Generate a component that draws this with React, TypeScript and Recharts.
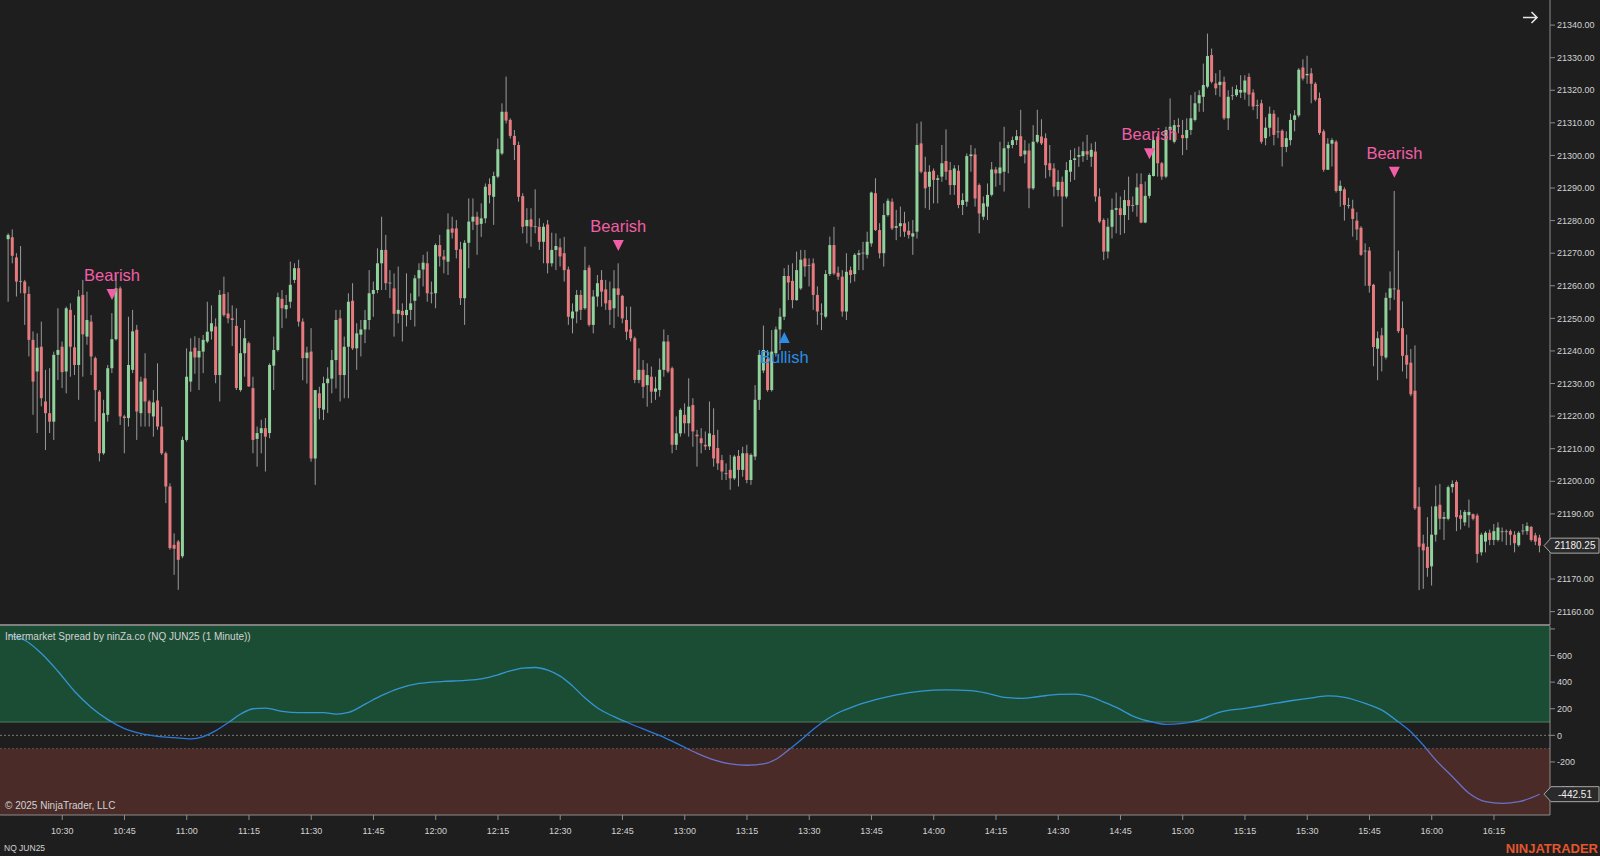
import React from 'react';
import { ComposedChart, Bar, Line, XAxis, YAxis, ReferenceArea, ReferenceLine } from 'recharts';

// ---------- DATA (1-minute NQ JUN25 candles, [open, high, low, close]) ----------
// 10:17 - 11:29
const candlesA: number[][] = [
  [21274.3, 21276.1, 21255.1, 21275.6], [21274.9, 21277.3, 21266.9, 21269.2], [21268.7, 21270.0, 21256.7, 21261.3],
  [21261.3, 21272.2, 21257.7, 21261.5], [21261.3, 21261.8, 21248.0, 21257.7], [21257.5, 21259.8, 21238.3, 21243.4],
  [21243.4, 21246.0, 21220.4, 21230.6], [21233.7, 21245.4, 21214.8, 21241.0], [21241.3, 21249.0, 21223.0, 21225.5],
  [21224.5, 21234.2, 21209.6, 21220.9], [21220.9, 21234.7, 21214.8, 21218.3], [21218.3, 21239.8, 21212.7, 21238.8],
  [21238.8, 21253.1, 21231.1, 21240.3], [21241.3, 21242.9, 21228.6, 21233.5], [21233.7, 21253.6, 21227.0, 21253.1],
  [21252.6, 21254.6, 21232.1, 21241.3], [21241.1, 21251.0, 21232.6, 21235.7], [21235.7, 21258.7, 21225.0, 21256.7],
  [21257.2, 21261.8, 21232.1, 21245.1], [21244.4, 21258.2, 21241.9, 21249.5], [21249.0, 21251.0, 21232.6, 21238.3],
  [21237.8, 21238.3, 21218.3, 21228.0], [21227.5, 21228.0, 21206.1, 21208.6], [21208.6, 21225.0, 21208.1, 21220.9],
  [21220.4, 21235.7, 21218.3, 21234.7], [21234.7, 21251.6, 21233.2, 21243.6], [21243.6, 21263.3, 21243.2, 21259.2],
  [21259.2, 21259.8, 21217.3, 21219.9], [21219.9, 21220.4, 21208.6, 21219.4], [21219.4, 21250.5, 21216.8, 21235.7],
  [21234.2, 21252.6, 21233.2, 21246.0], [21246.5, 21248.0, 21212.7, 21221.4], [21220.9, 21232.1, 21216.8, 21230.6],
  [21231.6, 21239.3, 21216.8, 21224.5], [21224.5, 21225.0, 21216.8, 21220.9], [21219.9, 21228.0, 21213.7, 21224.2],
  [21224.8, 21236.2, 21215.8, 21216.8], [21216.8, 21222.9, 21208.1, 21208.6], [21208.6, 21209.1, 21193.3, 21198.4],
  [21198.4, 21199.4, 21179.0, 21179.5], [21180.5, 21184.0, 21171.3, 21179.3], [21181.5, 21182.0, 21166.7, 21175.9],
  [21177.0, 21213.7, 21176.4, 21212.7], [21212.7, 21240.8, 21212.2, 21232.1], [21230.6, 21243.9, 21227.5, 21239.8],
  [21241.0, 21244.5, 21233.0, 21238.0], [21238.0, 21244.0, 21228.0, 21240.0], [21239.8, 21244.9, 21233.2, 21243.4],
  [21242.9, 21255.1, 21242.4, 21245.9], [21246.0, 21254.0, 21243.5, 21248.5], [21247.5, 21250.0, 21230.1, 21232.6],
  [21232.6, 21258.7, 21224.5, 21257.2], [21257.5, 21262.8, 21250.5, 21251.0], [21251.5, 21258.0, 21248.5, 21250.0],
  [21250.0, 21254.0, 21241.5, 21249.5], [21247.7, 21253.1, 21228.0, 21228.6], [21228.0, 21247.0, 21227.5, 21239.3],
  [21239.3, 21249.5, 21232.1, 21243.9], [21242.4, 21242.9, 21229.0, 21229.1], [21228.6, 21232.1, 21208.6, 21212.7],
  [21213.0, 21216.8, 21204.5, 21214.8], [21214.8, 21218.9, 21208.6, 21216.3], [21216.3, 21219.4, 21203.0, 21213.7],
  [21214.8, 21236.2, 21213.2, 21235.7], [21235.5, 21244.4, 21228.0, 21240.3], [21240.3, 21257.9, 21239.8, 21256.5],
  [21256.0, 21258.7, 21247.0, 21253.1], [21252.8, 21257.2, 21250.0, 21254.1], [21255.1, 21267.4, 21253.1, 21260.3],
  [21261.8, 21266.9, 21260.8, 21265.4], [21265.4, 21268.0, 21247.5, 21249.0], [21249.0, 21250.0, 21231.0, 21237.8],
  [21237.8, 21241.3, 21230.0, 21239.5],
];
// 11:30 - 12:44
const candlesB: number[][] = [
  [21239.8, 21247.0, 21206.0, 21207.0], [21207.0, 21228.0, 21198.9, 21228.0], [21227.0, 21229.0, 21219.0, 21222.5],
  [21222.0, 21232.1, 21218.8, 21230.1], [21230.1, 21235.0, 21221.0, 21231.5], [21231.5, 21240.3, 21227.0, 21237.2],
  [21237.2, 21252.6, 21228.5, 21249.5], [21250.0, 21252.6, 21224.5, 21232.6], [21232.6, 21244.4, 21225.5, 21241.3],
  [21241.3, 21257.7, 21225.5, 21255.1], [21255.4, 21260.8, 21240.3, 21240.8], [21240.8, 21248.5, 21234.2, 21245.4],
  [21245.0, 21249.5, 21238.3, 21246.6], [21246.6, 21252.6, 21242.4, 21249.5], [21249.5, 21264.8, 21246.5, 21257.7],
  [21257.5, 21261.3, 21250.5, 21258.7], [21258.7, 21271.5, 21257.7, 21266.9], [21266.9, 21281.2, 21258.7, 21271.0],
  [21271.0, 21275.6, 21258.7, 21260.8], [21260.8, 21264.8, 21256.2, 21261.0], [21259.2, 21263.8, 21244.4, 21251.4],
  [21251.4, 21265.9, 21248.5, 21252.6], [21252.3, 21254.6, 21242.9, 21251.0], [21251.0, 21263.8, 21247.5, 21252.6],
  [21252.6, 21257.7, 21249.5, 21254.6], [21255.4, 21263.3, 21247.5, 21262.3], [21262.3, 21266.9, 21256.7, 21264.8],
  [21265.0, 21269.5, 21259.8, 21267.1], [21266.9, 21270.5, 21255.1, 21257.7], [21257.9, 21261.3, 21254.6, 21257.9],
  [21257.7, 21273.0, 21253.1, 21272.5], [21272.5, 21275.6, 21265.9, 21269.0], [21269.0, 21271.0, 21263.8, 21268.0],
  [21267.4, 21282.2, 21263.3, 21277.3], [21277.6, 21281.2, 21274.5, 21276.3], [21277.6, 21280.2, 21268.4, 21271.0],
  [21271.2, 21273.5, 21254.1, 21256.2], [21256.2, 21274.0, 21248.0, 21273.2], [21273.2, 21286.8, 21265.4, 21279.7],
  [21279.7, 21286.8, 21277.1, 21281.2], [21281.2, 21282.7, 21269.5, 21278.7], [21279.0, 21285.3, 21275.0, 21280.7],
  [21280.7, 21291.4, 21279.2, 21290.4], [21291.2, 21293.0, 21285.3, 21287.8], [21287.3, 21295.0, 21278.7, 21293.7],
  [21293.5, 21305.2, 21293.0, 21301.9], [21300.6, 21316.0, 21300.1, 21313.4], [21313.4, 21324.2, 21309.8, 21310.7],
  [21310.9, 21311.4, 21305.2, 21306.0], [21306.0, 21307.8, 21298.6, 21303.2], [21303.2, 21304.2, 21285.8, 21287.3],
  [21287.5, 21288.4, 21276.1, 21278.1], [21278.3, 21283.8, 21273.0, 21280.2], [21280.4, 21283.8, 21272.0, 21278.1],
  [21278.3, 21289.6, 21276.1, 21278.1], [21278.1, 21280.7, 21271.0, 21273.5], [21273.5, 21279.2, 21266.9, 21278.1],
  [21278.8, 21280.2, 21263.8, 21266.9], [21266.9, 21276.3, 21265.9, 21271.0], [21271.0, 21276.1, 21264.8, 21272.2],
  [21271.8, 21274.5, 21265.9, 21269.0], [21270.0, 21275.0, 21261.3, 21264.8], [21265.0, 21265.9, 21248.0, 21250.5],
  [21250.0, 21254.6, 21245.4, 21252.1], [21252.1, 21258.7, 21248.5, 21257.2], [21257.2, 21258.7, 21249.5, 21252.6],
  [21253.1, 21272.0, 21252.6, 21264.8], [21265.6, 21266.4, 21247.5, 21248.0], [21248.0, 21258.7, 21245.4, 21256.7],
  [21256.7, 21263.3, 21253.6, 21260.8], [21261.8, 21264.8, 21253.6, 21258.2], [21258.9, 21261.8, 21252.6, 21254.6],
  [21255.6, 21261.3, 21248.0, 21252.6], [21253.1, 21264.8, 21247.0, 21259.2], [21259.2, 21266.9, 21250.5, 21257.2],
];
// 12:45 - 13:56
const candlesC: number[][] = [
  [21256.9, 21257.2, 21248.5, 21250.0], [21249.5, 21253.6, 21243.4, 21245.9], [21246.6, 21253.6, 21242.9, 21243.9],
  [21243.9, 21244.4, 21230.1, 21231.1], [21231.1, 21240.8, 21230.1, 21234.2], [21234.2, 21237.2, 21225.5, 21229.0],
  [21229.5, 21236.2, 21222.9, 21232.6], [21232.1, 21235.2, 21224.0, 21227.5], [21227.5, 21232.1, 21225.0, 21228.5],
  [21228.0, 21237.7, 21226.0, 21234.2], [21234.2, 21246.6, 21232.1, 21242.9], [21242.9, 21244.9, 21233.2, 21233.7],
  [21234.7, 21235.2, 21208.6, 21211.2], [21211.2, 21219.9, 21209.6, 21214.7], [21214.7, 21222.4, 21213.7, 21221.9],
  [21220.4, 21223.9, 21214.7, 21217.8], [21217.8, 21231.6, 21213.7, 21222.9], [21223.4, 21225.5, 21210.6, 21215.3],
  [21214.3, 21215.8, 21204.5, 21213.8], [21213.2, 21216.3, 21208.6, 21211.7], [21211.2, 21215.3, 21209.6, 21210.7],
  [21210.7, 21224.5, 21209.6, 21214.7], [21214.2, 21222.4, 21204.5, 21207.0], [21210.2, 21215.8, 21203.5, 21205.5],
  [21206.5, 21208.1, 21200.4, 21203.0], [21202.5, 21205.5, 21200.4, 21202.5], [21203.5, 21208.1, 21197.4, 21200.9],
  [21200.9, 21208.1, 21200.4, 21207.6], [21207.8, 21209.6, 21198.4, 21203.5], [21203.5, 21210.6, 21201.4, 21208.6],
  [21208.6, 21211.2, 21199.4, 21200.4], [21200.4, 21208.6, 21198.9, 21208.1], [21207.6, 21229.5, 21206.5, 21225.0],
  [21225.0, 21240.3, 21221.9, 21238.8], [21234.0, 21247.8, 21233.2, 21240.3], [21237.5, 21240.3, 21227.5, 21228.0],
  [21228.0, 21246.4, 21227.5, 21239.8], [21239.3, 21247.5, 21238.3, 21246.6], [21246.6, 21253.1, 21240.3, 21250.5],
  [21250.5, 21265.4, 21249.5, 21263.0], [21263.0, 21266.4, 21255.6, 21261.0], [21261.5, 21266.9, 21253.1, 21255.6],
  [21255.6, 21270.5, 21255.4, 21264.8], [21259.2, 21271.0, 21258.7, 21268.0], [21268.4, 21271.0, 21262.8, 21265.9],
  [21266.4, 21268.4, 21259.8, 21266.4], [21266.9, 21268.4, 21252.6, 21257.2], [21257.2, 21259.8, 21248.0, 21252.1],
  [21251.5, 21254.6, 21246.4, 21251.5], [21250.5, 21264.8, 21250.0, 21263.6], [21263.6, 21275.1, 21263.0, 21272.5],
  [21272.5, 21278.1, 21263.3, 21263.8], [21264.0, 21265.9, 21261.8, 21262.8], [21262.8, 21264.8, 21250.5, 21252.1],
  [21252.1, 21270.0, 21249.5, 21264.3], [21264.8, 21265.9, 21260.8, 21263.3], [21263.6, 21270.0, 21261.3, 21269.5],
  [21269.5, 21271.0, 21264.8, 21270.0], [21270.0, 21273.5, 21264.8, 21270.2], [21269.5, 21276.6, 21268.4, 21273.5],
  [21273.0, 21288.9, 21272.0, 21288.6], [21288.4, 21293.0, 21276.8, 21277.1], [21277.1, 21279.2, 21268.4, 21270.0],
  [21270.0, 21285.3, 21265.9, 21281.7], [21281.7, 21286.8, 21281.2, 21286.1], [21285.8, 21286.8, 21277.1, 21277.6],
  [21277.8, 21283.3, 21274.0, 21278.3], [21278.3, 21284.3, 21275.0, 21279.2], [21279.2, 21282.7, 21275.0, 21276.6],
  [21276.9, 21279.7, 21274.5, 21275.6], [21275.1, 21280.2, 21269.5, 21276.1], [21276.6, 21309.8, 21274.5, 21303.2],
];
// 13:57 - 15:13
const candlesD: number[][] = [
  [21303.7, 21310.4, 21294.5, 21295.0], [21295.0, 21299.6, 21283.8, 21289.9], [21290.4, 21297.0, 21283.3, 21295.0],
  [21295.3, 21296.0, 21285.3, 21292.5], [21292.5, 21294.0, 21285.3, 21293.0], [21293.5, 21303.2, 21291.9, 21297.6],
  [21298.3, 21308.0, 21292.5, 21295.0], [21295.5, 21298.0, 21287.9, 21290.9], [21290.9, 21297.0, 21287.9, 21296.0],
  [21295.3, 21297.0, 21283.8, 21284.8], [21284.8, 21288.4, 21281.7, 21286.3], [21285.8, 21300.6, 21284.3, 21299.8],
  [21299.8, 21303.2, 21295.0, 21300.3], [21300.3, 21302.2, 21284.3, 21286.8], [21290.9, 21291.4, 21276.1, 21282.2],
  [21281.2, 21287.4, 21280.2, 21285.3], [21284.3, 21291.4, 21280.2, 21287.9], [21287.9, 21298.0, 21287.4, 21295.7],
  [21295.7, 21296.5, 21290.4, 21294.5], [21294.5, 21304.2, 21290.9, 21296.3], [21295.0, 21308.8, 21288.9, 21302.2],
  [21302.2, 21304.2, 21294.5, 21303.2], [21303.2, 21305.8, 21302.2, 21304.7], [21304.7, 21307.8, 21303.2, 21305.9],
  [21305.9, 21314.0, 21299.6, 21299.8], [21300.3, 21304.7, 21297.6, 21301.5], [21301.5, 21303.7, 21283.8, 21289.9],
  [21289.9, 21309.3, 21289.4, 21304.2], [21304.2, 21314.0, 21303.7, 21306.3], [21305.8, 21311.1, 21303.2, 21303.7],
  [21305.3, 21306.8, 21293.0, 21297.0], [21297.6, 21303.2, 21293.5, 21295.5], [21296.0, 21297.6, 21287.4, 21290.4],
  [21289.4, 21295.5, 21287.4, 21291.9], [21291.9, 21293.5, 21278.1, 21287.4], [21287.4, 21298.0, 21286.8, 21295.5],
  [21295.0, 21301.7, 21291.9, 21298.6], [21298.6, 21302.2, 21292.5, 21299.1], [21299.6, 21302.7, 21296.5, 21300.1],
  [21299.8, 21304.2, 21298.0, 21301.3], [21301.3, 21306.3, 21298.6, 21300.3], [21299.6, 21303.7, 21296.5, 21301.7],
  [21301.2, 21304.2, 21285.8, 21287.4], [21287.4, 21289.9, 21279.2, 21279.7], [21280.2, 21280.7, 21267.9, 21270.5],
  [21270.5, 21280.7, 21268.4, 21278.1], [21278.1, 21286.8, 21274.5, 21283.3], [21283.3, 21288.6, 21276.1, 21283.8],
  [21283.8, 21287.4, 21275.6, 21281.7], [21281.7, 21289.4, 21276.1, 21286.3], [21286.3, 21293.5, 21280.2, 21284.5],
  [21284.5, 21287.4, 21282.7, 21284.8], [21284.8, 21294.5, 21281.2, 21290.2], [21291.2, 21294.5, 21279.2, 21279.4],
  [21279.4, 21292.0, 21279.2, 21287.6], [21287.6, 21294.5, 21286.8, 21294.0], [21293.7, 21305.8, 21293.5, 21304.7],
  [21305.8, 21306.8, 21293.5, 21297.6], [21297.6, 21298.0, 21292.5, 21293.5], [21293.5, 21308.8, 21293.0, 21307.8],
  [21307.8, 21317.5, 21304.7, 21308.8], [21304.2, 21310.9, 21303.7, 21309.3], [21309.3, 21311.4, 21306.8, 21308.8],
  [21306.3, 21310.9, 21300.1, 21305.3], [21305.3, 21311.4, 21301.7, 21307.8], [21307.8, 21318.5, 21306.3, 21311.4],
  [21310.9, 21319.5, 21310.4, 21316.0], [21316.0, 21320.0, 21313.4, 21318.5], [21318.0, 21328.2, 21313.4, 21321.6],
  [21321.1, 21337.4, 21320.6, 21330.5], [21330.8, 21332.8, 21322.1, 21322.6], [21322.1, 21325.2, 21318.5, 21320.6],
  [21321.6, 21326.2, 21318.0, 21322.6], [21322.6, 21324.2, 21310.9, 21311.4], [21311.4, 21320.0, 21307.8, 21318.0],
  [21318.5, 21321.1, 21317.0, 21318.5], [21318.5, 21321.6, 21318.0, 21320.3],
];
// 15:14 - 16:26
const candlesE: number[][] = [
  [21319.3, 21324.6, 21317.6, 21320.1], [21319.3, 21324.6, 21317.1, 21323.0], [21324.1, 21325.2, 21315.1, 21318.7],
  [21319.3, 21320.3, 21313.9, 21315.0], [21315.5, 21317.1, 21311.2, 21315.5], [21316.0, 21317.1, 21303.6, 21304.2],
  [21305.3, 21311.7, 21303.1, 21308.5], [21308.5, 21315.0, 21305.8, 21312.8], [21312.8, 21313.9, 21303.1, 21306.3],
  [21307.4, 21311.7, 21305.3, 21307.4], [21307.6, 21308.0, 21296.6, 21302.6], [21302.6, 21307.4, 21301.0, 21305.3],
  [21304.7, 21312.8, 21303.1, 21310.9], [21310.9, 21313.9, 21307.4, 21312.3], [21312.3, 21326.8, 21311.7, 21326.3],
  [21327.0, 21329.5, 21323.0, 21323.6], [21324.6, 21330.6, 21322.0, 21325.0], [21325.2, 21326.8, 21316.0, 21322.0],
  [21322.0, 21322.5, 21316.6, 21317.1], [21317.6, 21319.3, 21306.3, 21306.9], [21307.4, 21308.0, 21295.0, 21295.6],
  [21295.6, 21305.3, 21295.6, 21303.6], [21303.6, 21305.3, 21296.6, 21304.7], [21304.2, 21304.7, 21288.6, 21289.1],
  [21289.1, 21292.3, 21284.3, 21290.7], [21289.6, 21290.2, 21280.0, 21284.8], [21284.8, 21287.0, 21283.7, 21284.8],
  [21283.7, 21286.4, 21275.1, 21280.5], [21280.0, 21282.6, 21274.0, 21277.3], [21277.8, 21278.3, 21269.2, 21269.5],
  [21270.8, 21273.0, 21260.0, 21270.8], [21270.8, 21271.9, 21257.9, 21260.0], [21260.3, 21260.6, 21235.3, 21241.2],
  [21240.7, 21246.0, 21231.0, 21243.9], [21244.8, 21247.1, 21233.7, 21238.5], [21238.0, 21257.9, 21237.4, 21256.3],
  [21256.3, 21264.4, 21252.5, 21259.2], [21259.2, 21289.1, 21255.7, 21259.0], [21258.8, 21270.8, 21245.5, 21246.1],
  [21247.0, 21255.2, 21233.7, 21238.5], [21238.7, 21245.0, 21231.5, 21235.8], [21236.4, 21240.6, 21226.1, 21226.7],
  [21227.8, 21241.7, 21191.2, 21191.7], [21192.2, 21198.2, 21166.6, 21179.9], [21180.9, 21183.6, 21167.0, 21178.8],
  [21179.9, 21189.0, 21170.7, 21173.4], [21173.9, 21192.3, 21168.0, 21183.6], [21183.6, 21198.7, 21181.5, 21192.3],
  [21192.8, 21199.2, 21185.2, 21188.5], [21188.5, 21190.6, 21182.0, 21189.0], [21188.5, 21198.7, 21188.0, 21198.2],
  [21198.2, 21200.3, 21196.5, 21199.2], [21199.8, 21200.3, 21184.7, 21189.0], [21189.6, 21191.2, 21185.2, 21188.5],
  [21187.4, 21191.2, 21186.3, 21190.6], [21189.6, 21194.4, 21185.8, 21190.6], [21189.9, 21190.1, 21188.0, 21188.5],
  [21189.5, 21190.1, 21175.0, 21177.7], [21178.2, 21184.2, 21177.2, 21183.6], [21181.5, 21184.7, 21178.2, 21184.2],
  [21184.2, 21185.2, 21180.4, 21182.0], [21182.0, 21186.9, 21180.4, 21184.7], [21182.0, 21187.4, 21181.5, 21185.8],
  [21184.7, 21185.8, 21181.5, 21184.7], [21184.7, 21185.2, 21180.4, 21184.5], [21184.7, 21185.2, 21180.4, 21183.6],
  [21183.6, 21184.7, 21178.2, 21181.0], [21180.4, 21184.7, 21179.9, 21184.2], [21184.7, 21186.9, 21183.6, 21184.9],
  [21184.7, 21187.4, 21183.6, 21186.3], [21186.0, 21186.3, 21181.5, 21182.0], [21183.4, 21184.2, 21180.4, 21181.5],
  [21182.7, 21183.6, 21178.2, 21180.25],
];

const firstBarTime = '10:17';
const timeLabels = ['10:30', '10:45', '11:00', '11:15', '11:30', '11:45', '12:00', '12:15', '12:30', '12:45', '13:00', '13:15',
  '13:30', '13:45', '14:00', '14:15', '14:30', '14:45', '15:00', '15:15', '15:30', '15:45', '16:00', '16:15'];
const priceTicks = [21160, 21170, 21180, 21190, 21200, 21210, 21220, 21230, 21240, 21250, 21260, 21270, 21280, 21290,
  21300, 21310, 21320, 21330, 21340];
const oscTicks = [-400, -200, 0, 200, 400, 600, 800];

// signals: bar number (1-based), kind, price level of the marker
const signalBars = [26, 148, 188, 276, 335];
const signalKinds = ['bear', 'bear', 'bull', 'bear', 'bear'];
const signalPrices = [21257.5, 21272.5, 21244.0, 21300.7, 21295.0];

// Intermarket Spread oscillator (minute offset from first bar, value)
const oscMinutes = [0, 4, 8, 12, 16, 20, 24, 28, 32, 36, 40, 44, 47, 50, 53, 56, 59, 62, 66, 70, 76, 79, 82, 86, 90, 94,
  99, 105, 110, 114, 118, 121, 124, 127, 130, 133, 136, 139, 142, 146, 150, 154, 158, 162, 166, 170, 174, 178, 182, 185,
  188, 191, 194, 197, 200, 204, 209, 214, 220, 226, 232, 236, 240, 244, 248, 253, 257, 261, 264, 267, 271, 276, 279, 283,
  287, 292, 298, 303, 309, 315, 318, 322, 327, 331, 335, 338, 341, 344, 348, 352, 356, 360, 364, 369];
const oscValues = [752, 715, 615, 480, 330, 210, 118, 50, 12, -8, -18, -27, -10, 35, 95, 160, 200, 205, 180, 170, 170,
  160, 172, 235, 300, 352, 390, 405, 413, 425, 455, 485, 505, 510, 490, 445, 370, 280, 205, 140, 85, 35, -15, -75, -135,
  -185, -215, -225, -215, -180, -110, -35, 45, 115, 170, 220, 268, 305, 333, 342, 336, 315, 285, 278, 290, 308, 310, 288,
  250, 210, 145, 98, 83, 90, 115, 175, 203, 228, 260, 286, 297, 286, 240, 190, 100, 25, -75, -186, -311, -436, -499,
  -511, -499, -443];
const lastOscValue = -442.51;

// ---------- LAYOUT / STYLE ----------
const W = 1600;
const TOP_H = 625;
const BOT_TOP = 625;
const BOT_H = 231;
const BOT_AXIS_H = 41;
const AXIS_W = 50;
const PRICE_MIN = 21155.9;
const PRICE_MAX = 21347.7;
const OSC_MIN = -599;
const OSC_MAX = 822;
const BG = '#1e1e1e';
const UP = '#8fd29b';
const DOWN = '#e67a7e';
const WICK = '#9a9a9a';
const AXIS = '#8c8c8c';
const TXT = '#d2d2d2';
const FONT = "'Liberation Sans', Arial, sans-serif";
const PINK = '#f25fa6';
const BLUE = '#2b8de6';

const toMin = (t: string) => {
  const [h, m] = t.split(':').map(Number);
  return h * 60 + m;
};
const startMin = toMin(firstBarTime);
const tickMinutes = timeLabels.map((t) => toMin(t) - startMin);

const allCandles = [...candlesA, ...candlesB, ...candlesC, ...candlesD, ...candlesE];
const rows: any[] = allCandles.map((c, i) => ({
  m: i, o: c[0], h: c[1], l: c[2], c: c[3], range: [c[2], c[1]], sig: null, kind: '',
}));
signalBars.forEach((b, j) => {
  rows[b - 1].sig = signalPrices[j];
  rows[b - 1].kind = signalKinds[j];
});
rows.push({ m: rows.length, range: null, sig: null }, { m: rows.length + 1, range: null, sig: null });

const oscData = oscMinutes.map((m, i) => ({ m, v: oscValues[i] }));

const CandleShape = (props: any) => {
  const { x, y, width, height, payload } = props;
  if (!payload || payload.o == null || !isFinite(y) || !isFinite(height)) return <g />;
  const { o, h, l, c } = payload;
  const top = Math.min(y, y + height);
  const pix = Math.abs(height);
  const ratio = h - l > 0 ? pix / (h - l) : 0;
  const yOf = (p: number) => top + (h - p) * ratio;
  const cx = x + width / 2;
  const flat = Math.abs(c - o) < 0.3;
  const color = flat ? WICK : c > o ? UP : DOWN;
  const bTop = yOf(Math.max(o, c));
  const bBot = yOf(Math.min(o, c));
  return (
    <g>
      <line x1={cx} x2={cx} y1={top} y2={top + pix} stroke={WICK} strokeWidth={1} />
      <rect x={cx - 1.5} y={bTop} width={3} height={Math.max(1, bBot - bTop)} fill={color} />
    </g>
  );
};

const SignalDot = (props: any) => {
  const { cx, cy, payload, index } = props;
  if (!payload || !payload.kind || cy == null || !isFinite(cy)) return <g key={`s-${index}`} />;
  if (payload.kind === 'bear') {
    return (
      <g key={`s-${index}`}>
        <polygon points={`${cx - 5.5},${cy - 5} ${cx + 5.5},${cy - 5} ${cx},${cy + 6}`} fill={PINK} />
        <text x={cx} y={cy - 19} textAnchor="middle" dominantBaseline="central" fill={PINK} fontSize={16.5}
          fontFamily={FONT}>Bearish</text>
      </g>
    );
  }
  return (
    <g key={`s-${index}`}>
      <polygon points={`${cx - 5.5},${cy + 5} ${cx + 5.5},${cy + 5} ${cx},${cy - 6}`} fill={BLUE} />
      <text x={cx} y={cy + 19} textAnchor="middle" dominantBaseline="central" fill={BLUE} fontSize={16.5}
        fontFamily={FONT}>Bullish</text>
    </g>
  );
};

const BOT_PLOT_H = BOT_H - 1 - BOT_AXIS_H;
const priceY = (p: number) => ((PRICE_MAX - p) / (PRICE_MAX - PRICE_MIN)) * TOP_H;
const oscLocalY = (v: number) => 1 + ((OSC_MAX - v) / (OSC_MAX - OSC_MIN)) * BOT_PLOT_H;
const oscY = (v: number) => BOT_TOP + oscLocalY(v);

const Marker = ({ y, label }: { y: number; label: string }) => (
  <g>
    <polygon points={`1544,${y} 1551,${y - 7.5} 1599,${y - 7.5} 1599,${y + 7.5} 1551,${y + 7.5}`} fill="#2a2a2a"
      stroke="#a8a8a8" strokeWidth={1} />
    <text x={1575} y={y} textAnchor="middle" dominantBaseline="central" fill="#f0f0f0" fontSize={10}
      fontFamily={FONT}>{label}</text>
  </g>
);

export default function App() {
  const lastClose = allCandles[allCandles.length - 1][3];
  const tickStyle = { fill: TXT, fontSize: 9, fontFamily: FONT };
  const gTop = oscLocalY(100) / BOT_H;
  const gBot = oscLocalY(-100) / BOT_H;
  return (
    <div style={{ position: 'absolute', left: 0, top: 0, width: W, height: 856, background: BG, overflow: 'hidden' }}>
      <div style={{ position: 'absolute', left: 0, top: 0 }}>
        <ComposedChart width={W} height={TOP_H} data={rows} margin={{ top: 0, right: 0, bottom: 0, left: 6.2 }}>
          <XAxis dataKey="m" type="category" hide />
          <YAxis orientation="right" width={AXIS_W} domain={[PRICE_MIN, PRICE_MAX]} allowDataOverflow
            ticks={priceTicks} interval={0} tickFormatter={(v: number) => v.toFixed(2)} tick={tickStyle}
            axisLine={{ stroke: AXIS }} tickLine={{ stroke: AXIS }} tickSize={5} tickMargin={2} />
          <Bar dataKey="range" shape={CandleShape} isAnimationActive={false} />
          <Line dataKey="sig" stroke="none" dot={SignalDot} activeDot={false} isAnimationActive={false}
            legendType="none" />
        </ComposedChart>
      </div>
      <div style={{ position: 'absolute', left: 0, top: BOT_TOP }}>
        <ComposedChart width={W} height={BOT_H} data={oscData} margin={{ top: 1, right: 0, bottom: 0, left: 0 }}>
          <defs>
            <linearGradient id="oscStroke" gradientUnits="userSpaceOnUse" x1="0" y1="0" x2="0" y2={BOT_H}>
              <stop offset={0} stopColor="#3395d4" />
              <stop offset={gTop} stopColor="#3395d4" />
              <stop offset={gTop} stopColor="#2a78d8" />
              <stop offset={gBot} stopColor="#2a78d8" />
              <stop offset={gBot} stopColor="#6a70c8" />
              <stop offset={1} stopColor="#6a70c8" />
            </linearGradient>
          </defs>
          <ReferenceArea y1={100} y2={OSC_MAX} fill="#1b4d34" fillOpacity={1} stroke="none" ifOverflow="hidden" />
          <ReferenceArea y1={OSC_MIN} y2={-100} fill="#4a2b27" fillOpacity={1} stroke="none" ifOverflow="hidden" />
          <ReferenceLine y={100} stroke="#4e7d62" strokeWidth={1} />
          <ReferenceLine y={0} stroke="#7a7a7a" strokeDasharray="2 2" strokeWidth={1} />
          <ReferenceLine y={-100} stroke="#6b4c46" strokeDasharray="2 2" strokeWidth={1} />
          <XAxis dataKey="m" type="number" domain={[-1.995, 371.5]} allowDataOverflow ticks={tickMinutes}
            interval={0} tickFormatter={(m: number) => timeLabels[tickMinutes.indexOf(m)] ?? ''} tick={tickStyle}
            axisLine={{ stroke: AXIS }} tickLine={{ stroke: AXIS }} tickSize={5} tickMargin={8} height={BOT_AXIS_H} />
          <YAxis orientation="right" width={AXIS_W} domain={[OSC_MIN, OSC_MAX]} allowDataOverflow ticks={oscTicks}
            interval={0} tickFormatter={(v: number) => (v === 800 ? '' : String(v))} tick={tickStyle}
            axisLine={{ stroke: AXIS }} tickLine={{ stroke: AXIS }} tickSize={5} tickMargin={2} />
          <Line dataKey="v" type="monotone" stroke="url(#oscStroke)" strokeWidth={1.3} dot={false} activeDot={false}
            isAnimationActive={false} />
        </ComposedChart>
      </div>
      <svg width={W} height={856} style={{ position: 'absolute', left: 0, top: 0, pointerEvents: 'none' }}>
        <line x1={0} x2={1550} y1={625} y2={625} stroke="#a0a0a0" strokeWidth={1.5} />
        <path d="M1523,17.5 L1537,17.5 M1531.5,12 L1537,17.5 L1531.5,23" stroke="#e6e6e6" strokeWidth={1.6}
          fill="none" />
        <text x={5} y={636} dominantBaseline="central" fill={TXT} fontSize={10} fontFamily={FONT}>
          Intermarket Spread by ninZa.co (NQ JUN25 (1 Minute))
        </text>
        <text x={5} y={805} dominantBaseline="central" fill={TXT} fontSize={10} fontFamily={FONT}>
          © 2025 NinjaTrader, LLC
        </text>
        <text x={4} y={848} dominantBaseline="central" fill={TXT} fontSize={8.5} fontFamily={FONT}>NQ JUN25</text>
        <text x={1598} y={848} textAnchor="end" dominantBaseline="central" fill="#e5562d" fontSize={13}
          fontWeight="bold" fontFamily={FONT}>NINJATRADER</text>
        <Marker y={priceY(lastClose)} label={lastClose.toFixed(2)} />
        <Marker y={oscY(lastOscValue)} label={lastOscValue.toFixed(2)} />
      </svg>
    </div>
  );
}
